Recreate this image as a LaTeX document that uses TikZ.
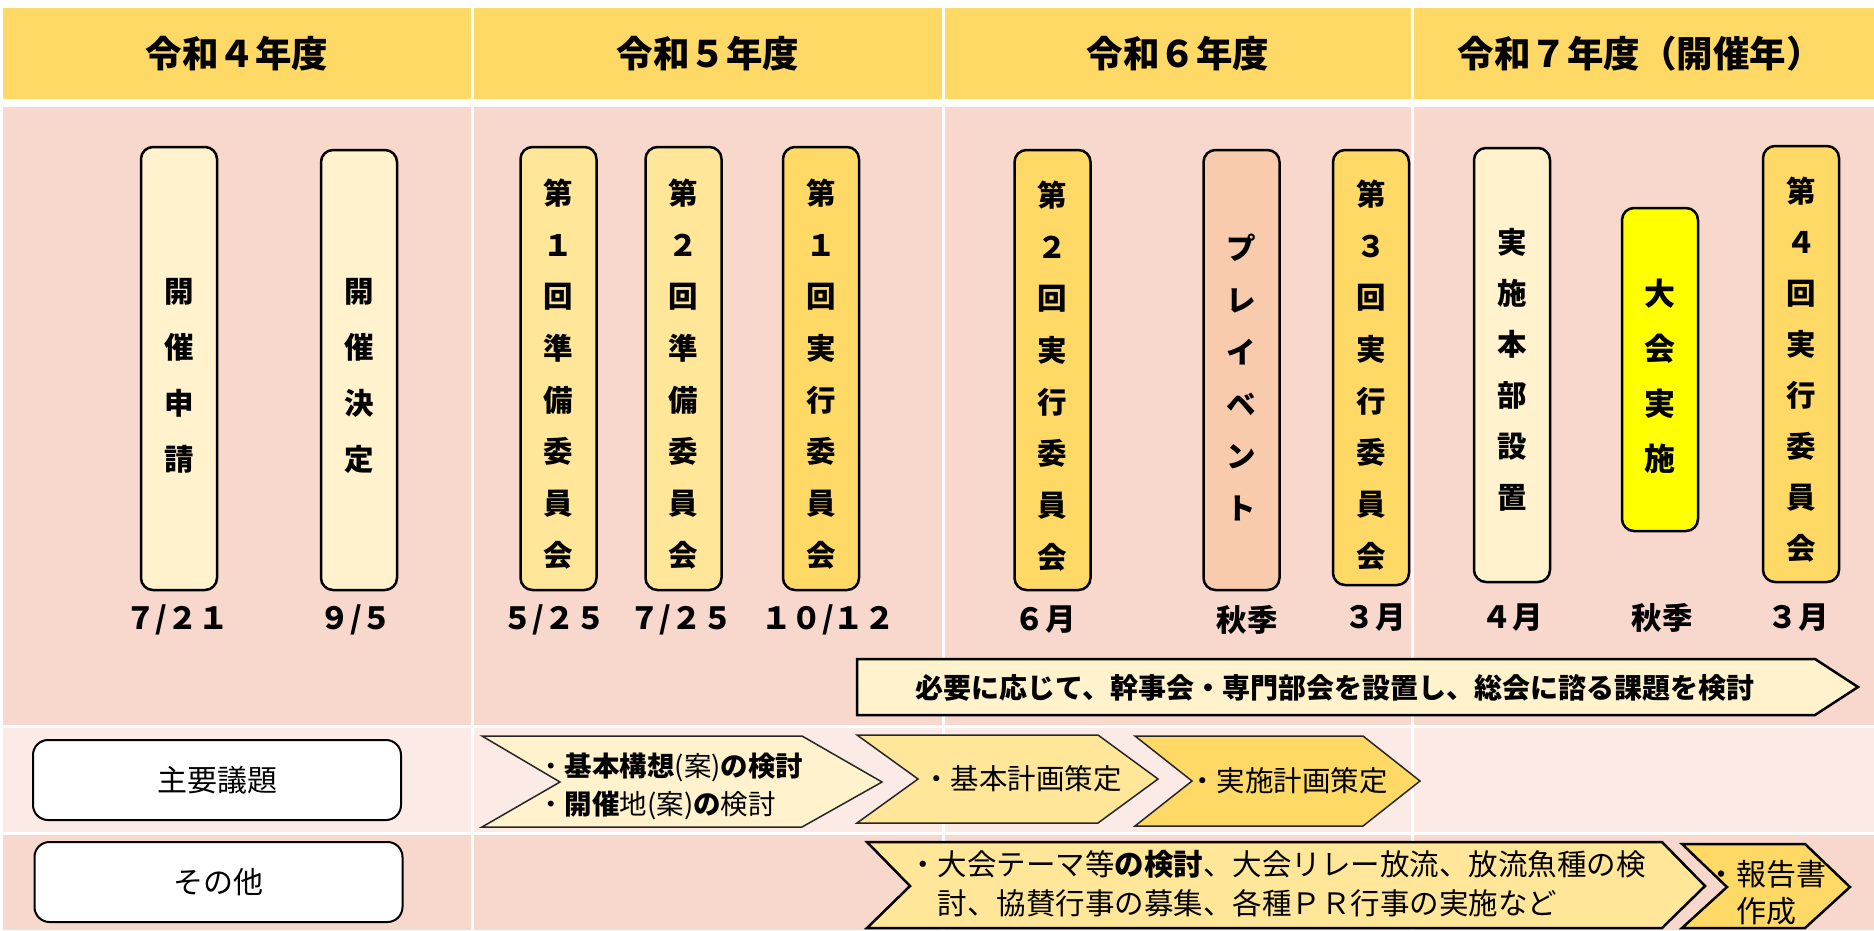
\documentclass[tikz,border=0pt]{standalone}
\usepackage{fontspec}
\setmainfont{Noto Sans CJK JP}
\definecolor{hdrcol}{HTML}{FFD966}
\definecolor{pinkA}{HTML}{F8D7CD}
\definecolor{pinkB}{HTML}{FBEAE6}
\definecolor{cream}{HTML}{FFF2CC}
\definecolor{lgold}{HTML}{FFE699}
\definecolor{mygold}{HTML}{FFD966}
\definecolor{peach}{HTML}{F8CBAD}
\definecolor{yel}{HTML}{FFFF00}
\tikzset{
  vbox/.style={draw=black, line width=2.5pt, rounded corners=12pt, minimum width=76pt, inner sep=0pt},
  vtext/.style={font=\bfseries\fontsize{29.5}{51.7}\selectfont, align=center, inner sep=0pt},
  vtextw/.style={font=\bfseries\fontsize{29.5}{56}\selectfont, align=center, inner sep=0pt},
  datet/.style={font=\bfseries\fontsize{30.5}{34}\selectfont, inner sep=0pt},
  hdrt/.style={font=\bfseries\fontsize{36.5}{40}\selectfont, inner sep=0pt},
  lbox/.style={draw=black, line width=2pt, rounded corners=15pt, fill=white, minimum width=368pt, minimum height=80pt, inner sep=0pt, font=\fontsize{30}{36}\selectfont},
  chevthin/.style={draw=black!85, line width=1.5pt},
  chevthick/.style={draw=black, line width=2.5pt},
  rowtext/.style={inner sep=0pt, anchor=west, align=left}
}
\begin{document}
\begin{tikzpicture}[x=1pt,y=-1pt]
\useasboundingbox (0,0) rectangle (1874,930);
% header cells
\fill[hdrcol] (3,8) rectangle (471,99);
\fill[hdrcol] (474,8) rectangle (942,99);
\fill[hdrcol] (945,8) rectangle (1411,99);
\fill[hdrcol] (1414,8) rectangle (1874,99);
% body
\fill[pinkA] (3,107) rectangle (471,725);
\fill[pinkA] (474,107) rectangle (942,725);
\fill[pinkA] (945,107) rectangle (1411,725);
\fill[pinkA] (1414,107) rectangle (1874,725);
% row 2
\fill[pinkB] (3,728) rectangle (471,832);
\fill[pinkB] (474,728) rectangle (942,832);
\fill[pinkB] (945,728) rectangle (1411,832);
\fill[pinkB] (1414,728) rectangle (1874,832);
% row 3
\fill[pinkA] (3,835) rectangle (471,930);
\fill[pinkA] (474,835) rectangle (942,930);
\fill[pinkA] (945,835) rectangle (1411,930);
\fill[pinkA] (1414,835) rectangle (1874,930);

% headers
\node[hdrt] (h1) at (237,54) {令和４年度};
\node[hdrt] (h2) at (708,54) {令和５年度};
\node[hdrt] (h3) at (1178,54) {令和６年度};
\node[hdrt] (h4) at (1640,54) {令和７年度（開催年）};

% vertical boxes
\node[vbox, fill=cream, minimum height=443pt] (b1) at (179,368.5) {};
\node[vtextw] (t1) at (179,376) {開\\催\\申\\請};
\node[vbox, fill=cream, minimum height=440pt] (b2) at (359,370) {};
\node[vtextw] (t2) at (359,376) {開\\催\\決\\定};
\node[vbox, fill=lgold, minimum height=443pt] (b3) at (558.5,368.5) {};
\node[vtext] (t3) at (558.5,374) {第\\１\\回\\準\\備\\委\\員\\会};
\node[vbox, fill=lgold, minimum height=443pt] (b4) at (683.5,368.5) {};
\node[vtext] (t4) at (683.5,374) {第\\２\\回\\準\\備\\委\\員\\会};
\node[vbox, fill=mygold, minimum height=443pt] (b5) at (821,368.5) {};
\node[vtext] (t5) at (821,374) {第\\１\\回\\実\\行\\委\\員\\会};
\node[vbox, fill=mygold, minimum height=440pt] (b6) at (1052.5,370) {};
\node[vtext] (t6) at (1052.5,376) {第\\２\\回\\実\\行\\委\\員\\会};
\node[vbox, fill=peach, minimum height=440pt] (b7) at (1241.5,370) {};
\node[vtext, font=\bfseries\fontsize{29.5}{52}\selectfont] (t7) at (1241.5,377) {プ\\レ\\イ\\ベ\\ン\\ト};
\node[vbox, fill=mygold, minimum height=435pt] (b8) at (1371,367.5) {};
\node[vtext] (t8) at (1371,375) {第\\３\\回\\実\\行\\委\\員\\会};
\node[vbox, fill=cream, minimum height=434pt] (b9) at (1512,365) {};
\node[vtext, font=\bfseries\fontsize{29.5}{51}\selectfont] (t9) at (1512,370) {実\\施\\本\\部\\設\\置};
\node[vbox, fill=yel, minimum height=323pt] (b10) at (1660,369.5) {};
\node[vtext, font=\bfseries\fontsize{31}{55}\selectfont] (t10) at (1660,376) {大\\会\\実\\施};
\node[vbox, fill=mygold, minimum height=436pt] (b11) at (1801,364) {};
\node[vtext, font=\bfseries\fontsize{29.5}{51}\selectfont] (t11) at (1801,370) {第\\４\\回\\実\\行\\委\\員\\会};

% dates
\node[datet] (d1) at (177,620) {７/２１};
\node[datet] (d2) at (356,620) {９/５};
\node[datet] (d3) at (554,620) {５/２５};
\node[datet] (d4) at (681,620) {７/２５};
\node[datet] (d5) at (828,620) {１０/１２};
\node[datet] (d6) at (1045,620) {６月};
\node[datet] (d7) at (1247,620) {秋季};
\node[datet] (d8) at (1375,618) {３月};
\node[datet] (d9) at (1512,618) {４月};
\node[datet] (d10) at (1662,618) {秋季};
\node[datet] (d11) at (1798,618) {３月};

% long arrow
\draw[chevthick, fill=cream] (857,659) -- (1815,659) -- (1858,687) -- (1815,715) -- (857,715) -- cycle;
\node[inner sep=0pt, font=\bfseries\fontsize{28}{34}\selectfont] (la) at (1335,688) {必要に応じて、幹事会・専門部会を設置し、総会に諮る課題を検討};

% row labels
\node[lbox] (l1) at (217,780) {主要議題};
\node[lbox] (l2) at (218.5,882) {その他};

% row 2 chevrons
\draw[chevthin, fill=cream] (482,736) -- (802,736) -- (882,782) -- (802,827) -- (482,827) -- (560,782) -- cycle;
\node[rowtext, font=\fontsize{27.5}{38}\selectfont] (c1) at (537,786) {・\textbf{基本構想}(案)\textbf{の検討}\\・\textbf{開催}地(案)\textbf{の}検討};
\draw[chevthin, fill=lgold] (857,735) -- (1098,735) -- (1158,779) -- (1098,823) -- (857,823) -- (918,779) -- cycle;
\node[rowtext, font=\fontsize{28.5}{34}\selectfont] (c2) at (922,779) {・基本計画策定};
\draw[chevthin, fill=mygold] (1135,736) -- (1363,736) -- (1420,781) -- (1363,826) -- (1135,826) -- (1192,781) -- cycle;
\node[rowtext, font=\fontsize{28.5}{34}\selectfont] (c3) at (1188,781) {・実施計画策定};

% row 3 chevrons
\draw[chevthick, fill=lgold] (867,842) -- (1662,842) -- (1705,886) -- (1662,928) -- (867,928) -- (910,886) -- cycle;
\node[rowtext, font=\fontsize{29.5}{39}\selectfont] (c4) at (908,884) {・大会テーマ等\textbf{の検討}、大会リレー放流、放流魚種の検\\\phantom{・}討、協賛行事の募集、各種ＰＲ行事の実施など};
\draw[chevthick, fill=mygold] (1682,844) -- (1805,844) -- (1850,887) -- (1805,928) -- (1682,928) -- (1727,887) -- cycle;
\node[rowtext, font=\fontsize{30}{37}\selectfont] (c5) at (1706,893) {・報告書\\\phantom{・}作成};
\end{tikzpicture}
\end{document}
